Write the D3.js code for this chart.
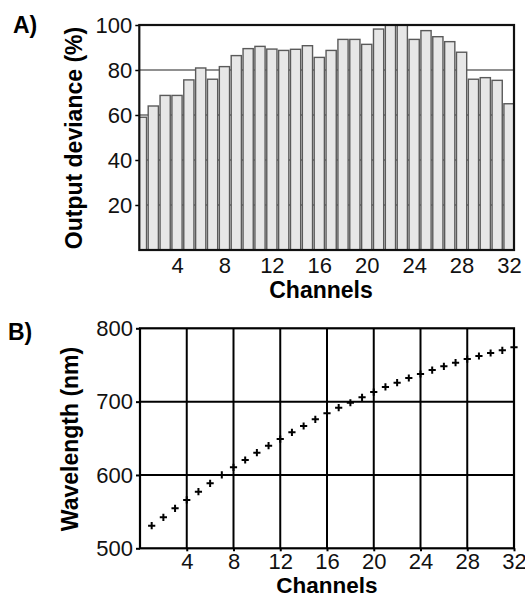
<!DOCTYPE html>
<html><head><meta charset="utf-8">
<script src="https://cdn.jsdelivr.net/npm/d3@7"></script>
<style>
html,body{margin:0;padding:0;background:#fff;}
svg{display:block;font-family:"Liberation Sans",Arial,Helvetica,sans-serif;}
</style></head>
<body><svg id="c" width="525" height="597"></svg>
<script>
const channels = [1,2,3,4,5,6,7,8,9,10,11,12,13,14,15,16,17,18,19,20,21,22,23,24,25,26,27,28,29,30,31,32];
const outputDeviance = [59,64,68.7,68.7,75.6,80.9,75.9,81.5,86.4,89.5,90.5,89.3,88.7,89.2,90.8,85.6,88.7,93.6,93.6,91.4,98.2,100,100,93.6,97.5,94.8,92.6,87.9,75.9,76.6,75.4,65];
const wavelength = [530.8,542.3,554.5,565.9,577.2,588.6,600,610.4,620.4,630.4,640,649,658.2,666.8,675.9,684.1,691.7,698.5,705.9,713.1,720,725.8,732.2,737.7,743.1,748.2,753.1,758.1,762.2,766.3,770,774.1];
const xTicks = [4,8,12,16,20,24,28,32];
const yTicksA = [20,40,60,80,100];
const yTicksB = [500,600,700,800];
const labelA = "A)", labelB = "B)";
const yTitleA = "Output deviance (%)", yTitleB = "Wavelength (nm)", xTitle = "Channels";

const svg = d3.select("#c");
const tickFont = 22, titleFont = 23;

// ---------- Panel A ----------
const A = {l:139.3, r:514, t:25, b:250};
const xA = d3.scaleLinear().domain([0.82, 32.42]).range([A.l, A.r]);
const yA = d3.scaleLinear().domain([0, 100]).range([A.b, A.t]);
const gA = svg.append("g");
gA.append("clipPath").attr("id","clipA").append("rect")
  .attr("x",A.l).attr("y",A.t).attr("width",A.r-A.l).attr("height",A.b-A.t);
gA.append("g").selectAll("line").data(yTicksA.slice(0,4)).join("line")
  .attr("x1",A.l).attr("x2",A.r).attr("y1",d=>yA(d)).attr("y2",d=>yA(d))
  .attr("stroke","#222").attr("stroke-width",1.1);
const step = xA(2)-xA(1), bw = step*0.86;
gA.append("g").attr("clip-path","url(#clipA)").selectAll("rect").data(channels).join("rect")
  .attr("x",(d)=>xA(d)-bw/2).attr("width",bw)
  .attr("y",(d,i)=>yA(outputDeviance[i])).attr("height",(d,i)=>yA(0)-yA(outputDeviance[i]))
  .attr("fill","#e7e7e7").attr("stroke","#5a5a5a").attr("stroke-width",1.4);
const axA = gA.append("g").attr("transform",`translate(${A.l},0)`)
  .call(d3.axisLeft(yA).tickValues(yTicksA).tickSize(4).tickPadding(3));
axA.select(".domain").remove();
axA.selectAll("line").attr("stroke","#000").attr("stroke-width",1.5);
axA.selectAll("text").attr("font-size",tickFont).attr("fill","#111").attr("font-family","Liberation Sans, Arial, sans-serif");
const axAx = gA.append("g").attr("transform",`translate(0,${A.b})`)
  .call(d3.axisBottom(xA).tickValues(xTicks).tickSize(0).tickPadding(7));
axAx.select(".domain").remove();
axAx.selectAll("text").attr("font-size",tickFont).attr("fill","#111").attr("font-family","Liberation Sans, Arial, sans-serif").attr("dy","0.71em");
gA.append("rect").attr("x",A.l).attr("y",A.t).attr("width",A.r-A.l).attr("height",A.b-A.t)
  .attr("fill","none").attr("stroke","#111").attr("stroke-width",2.2);
gA.append("text").attr("x",13).attr("y",33).attr("font-size",titleFont).attr("font-weight","bold").text(labelA);
gA.append("text").attr("transform",`translate(82,${(A.t+A.b)/2+0.5}) rotate(-90)`).attr("text-anchor","middle")
  .attr("font-size",titleFont).attr("font-weight","bold").text(yTitleA);
gA.append("text").attr("x",321).attr("y",298).attr("text-anchor","middle")
  .attr("font-size",titleFont).attr("font-weight","bold").text(xTitle);

// ---------- Panel B ----------
const B = {l:140, r:514, t:328.3, b:548.3};
const xB = d3.scaleLinear().domain([0, 32]).range([B.l, B.r]);
const yB = d3.scaleLinear().domain([500, 800]).range([B.b, B.t]);
const gB = svg.append("g");
gB.append("g").selectAll("line").data(xTicks.slice(0,7)).join("line")
  .attr("x1",d=>xB(d)).attr("x2",d=>xB(d)).attr("y1",B.t).attr("y2",B.b)
  .attr("stroke","#000").attr("stroke-width",2);
gB.append("g").selectAll("line").data(yTicksB.slice(1,3)).join("line")
  .attr("x1",B.l).attr("x2",B.r).attr("y1",d=>yB(d)).attr("y2",d=>yB(d))
  .attr("stroke","#000").attr("stroke-width",2);
gB.append("rect").attr("x",B.l).attr("y",B.t).attr("width",B.r-B.l).attr("height",B.b-B.t)
  .attr("fill","none").attr("stroke","#000").attr("stroke-width",2.2);
const axB = gB.append("g").attr("transform",`translate(${B.l},0)`)
  .call(d3.axisLeft(yB).tickValues(yTicksB).tickSize(4).tickPadding(3));
axB.select(".domain").remove();
axB.selectAll("line").attr("stroke","#000").attr("stroke-width",2);
axB.selectAll("text").attr("font-size",tickFont).attr("fill","#111").attr("font-family","Liberation Sans, Arial, sans-serif");
const axBx = gB.append("g").attr("transform",`translate(0,${B.b})`)
  .call(d3.axisBottom(xB).tickValues(xTicks).tickSize(3).tickPadding(2));
axBx.select(".domain").remove();
axBx.selectAll("line").attr("stroke","#000").attr("stroke-width",2);
axBx.selectAll("text").attr("font-size",tickFont).attr("fill","#111").attr("font-family","Liberation Sans, Arial, sans-serif").attr("dy","0.71em");
gB.append("g").selectAll("path").data(channels).join("path")
  .attr("transform",(d,i)=>`translate(${xB(d)},${yB(wavelength[i])})`)
  .attr("d","M-3.6,0H3.6M0,-3.6V3.6").attr("stroke","#000").attr("stroke-width",2).attr("fill","none");
gB.append("text").attr("x",8).attr("y",340).attr("font-size",titleFont).attr("font-weight","bold").text(labelB);
gB.append("text").attr("transform",`translate(78,439) rotate(-90)`).attr("text-anchor","middle")
  .attr("font-size",titleFont).attr("font-weight","bold").text(yTitleB);
gB.append("text").attr("x",327).attr("y",593).attr("text-anchor","middle")
  .attr("font-size",22.5).attr("font-weight","bold").text(xTitle);
</script></body></html>
